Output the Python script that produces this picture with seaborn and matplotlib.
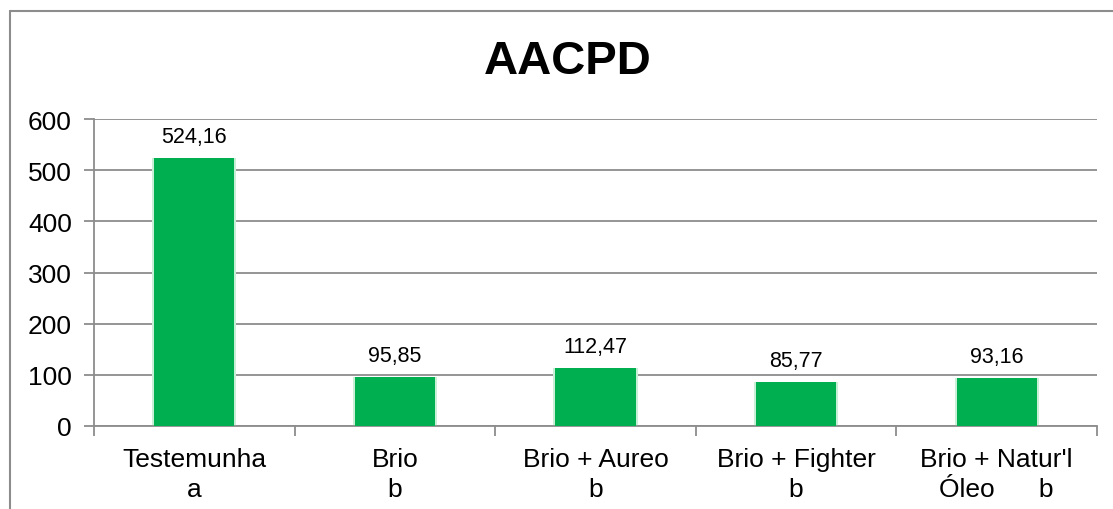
import matplotlib
matplotlib.use("Agg")
import matplotlib.pyplot as plt
import matplotlib.lines as mlines
import pandas as pd
import seaborn as sns

# data
categories = ["Testemunha\na", "Brio\nb", "Brio + Aureo\nb", "Brio + Fighter\nb",
              "Brio + Natur'l\nÓleo      b"]
values = [524.16, 95.85, 112.47, 85.77, 93.16]
value_labels = ["524,16", "95,85", "112,47", "85,77", "93,16"]
y_ticks = [0, 100, 200, 300, 400, 500, 600]

df = pd.DataFrame({"Tratamento": categories, "AACPD": values})

sns.set_theme(style="white")
plt.rcParams["font.family"] = ["Liberation Sans", "DejaVu Sans"]

fig = plt.figure(figsize=(11.13, 5.10), dpi=100)
ax = fig.add_axes([94 / 1113, 1 - 427 / 510, (1097 - 94) / 1113, (427 - 120) / 510])

green = "#00B050"
grey = "#8C8C8C"

# soft glow round the bars
sns.barplot(data=df, x="Tratamento", y="AACPD", color="#C8F0D6", width=0.42,
            saturation=1, ax=ax, zorder=2, linewidth=0)
sns.barplot(data=df, x="Tratamento", y="AACPD", color=green, width=0.40,
            saturation=1, ax=ax, zorder=3, linewidth=0)

ax.set_ylim(0, 600)
ax.set_xlim(-0.5, len(categories) - 0.5)
ax.set_yticks(y_ticks)
ax.yaxis.grid(True, color=grey, linewidth=1.3, zorder=0)
ax.set_axisbelow(True)

for sp in ["top", "right"]:
    ax.spines[sp].set_visible(False)
for sp in ["left", "bottom"]:
    ax.spines[sp].set_color(grey)
    ax.spines[sp].set_linewidth(1.3)

ax.tick_params(axis="y", length=7, width=1.3, color=grey, labelsize=19, pad=9,
               left=True, labelcolor="black")
ax.tick_params(axis="x", which="major", length=0, labelsize=19, pad=15,
               labelcolor="black")
for t in ax.get_xticklabels():
    t.set_linespacing(1.35)
ax.set_xticks([i - 0.5 for i in range(len(categories) + 1)], minor=True)
ax.tick_params(axis="x", which="minor", length=7, width=1.3, color=grey,
               bottom=True, direction="out")

ax.set_xlabel("")
ax.set_ylabel("")

for i, (v, lab) in enumerate(zip(values, value_labels)):
    ax.annotate(lab, (i, v), xytext=(0, 8), textcoords="offset points",
                ha="center", va="bottom", fontsize=15.5, color="black")

fig.text(568 / 1113, 1 - 62 / 510, "AACPD", ha="center", va="center",
         fontsize=34, fontweight="bold", color="black")

# outer chart frame (left and top edges visible)
fig.add_artist(mlines.Line2D([9.5 / 1113, 9.5 / 1113], [0, 1 - 12 / 510],
                             color=grey, linewidth=1.5, transform=fig.transFigure))
fig.add_artist(mlines.Line2D([9.5 / 1113, 1], [1 - 12 / 510, 1 - 12 / 510],
                             color=grey, linewidth=1.5, transform=fig.transFigure))

fig.savefig("out.png", dpi=100, facecolor="white")
